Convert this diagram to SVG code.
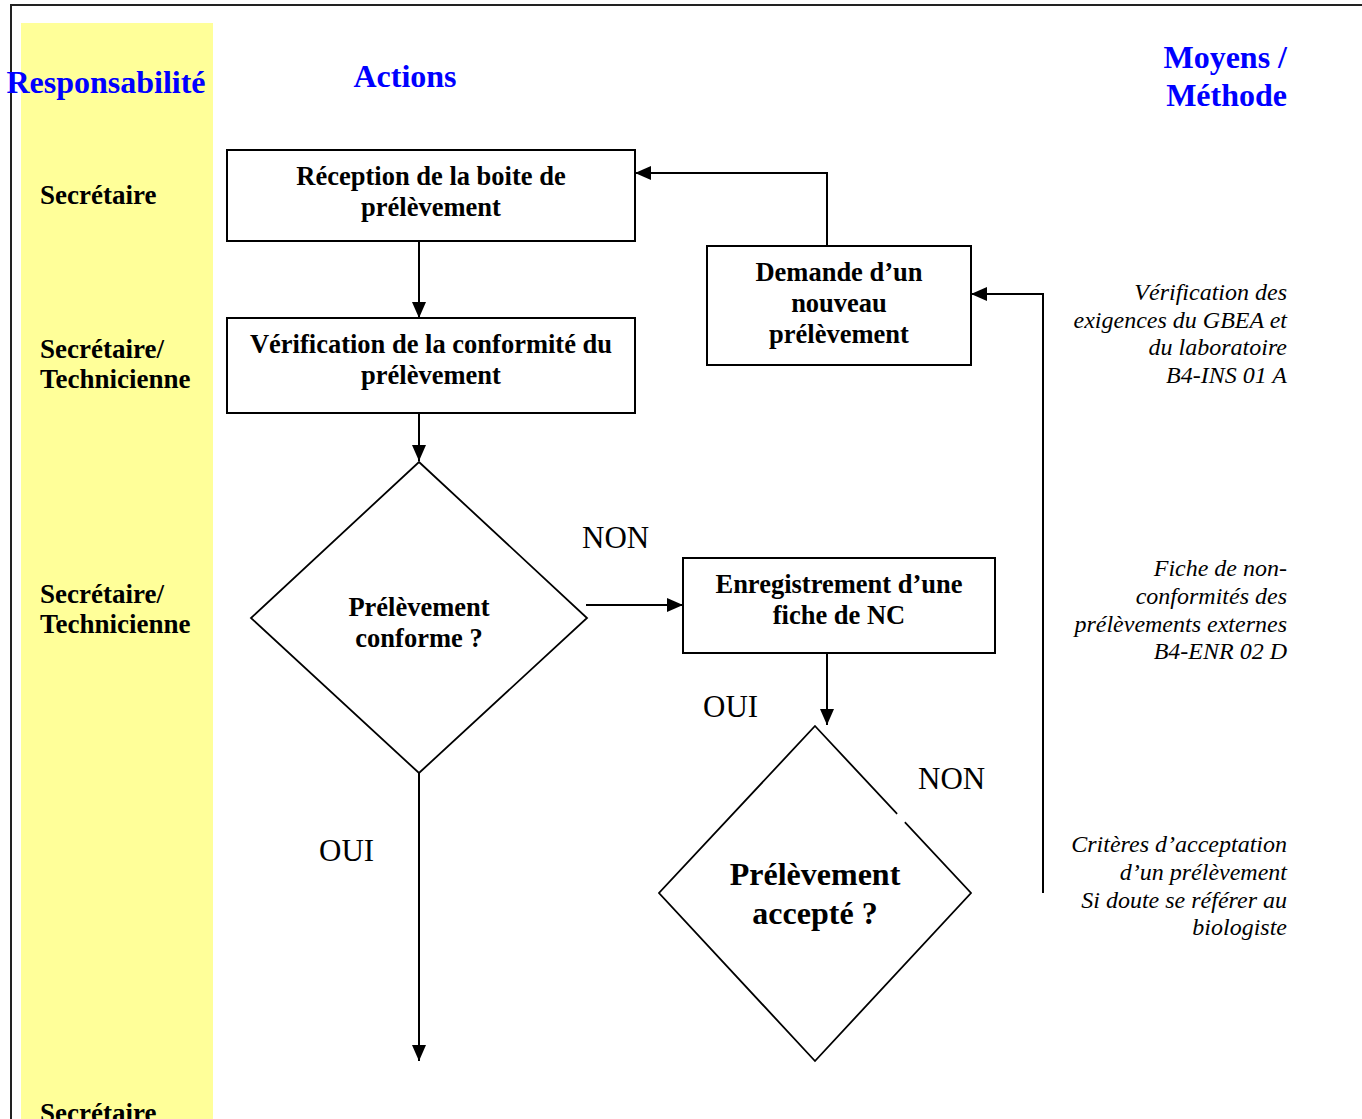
<svg xmlns="http://www.w3.org/2000/svg" width="1362" height="1119" viewBox="0 0 1362 1119">
<style>
.box{fill:#fff;stroke:#000;stroke-width:2}
.dia{fill:#fff;stroke:#000;stroke-width:1.8}
.con{fill:none;stroke:#000;stroke-width:2}
.hd{font-family:"Liberation Serif",serif;font-weight:bold;font-size:32px;fill:#0000FF}
.lane{font-family:"Liberation Serif",serif;font-weight:bold;font-size:27px;fill:#000}
.bt{font-family:"Liberation Serif",serif;font-weight:bold;font-size:26.5px;fill:#000;text-anchor:middle}
.big{font-family:"Liberation Serif",serif;font-weight:bold;font-size:32px;fill:#000;text-anchor:middle}
.lbl{font-family:"Liberation Serif",serif;font-size:31px;fill:#000}
.it{font-family:"Liberation Serif",serif;font-style:italic;font-size:24px;fill:#000;text-anchor:end}
</style>
<defs>
<marker id="ah" viewBox="0 0 16 14" refX="16" refY="7" markerWidth="16" markerHeight="14" markerUnits="userSpaceOnUse" orient="auto">
<path d="M0,0 L16,7 L0,14 Z" fill="#000"/>
</marker>
<clipPath id="clipNon"><rect x="570" y="510" width="100" height="39"/></clipPath>
</defs>
<rect width="1362" height="1119" fill="#fff"/>
<path d="M1362,5 H11 V1119" fill="none" stroke="#222" stroke-width="2"/>
<rect x="21" y="23" width="192" height="1096" fill="#FFFF99"/>

<g id="headers">
<text class="hd" x="106" y="93" text-anchor="middle">Responsabilité</text>
<text class="hd" x="405" y="87" text-anchor="middle">Actions</text>
<text class="hd" x="1287" y="68" text-anchor="end">Moyens /</text>
<text class="hd" x="1287" y="106" text-anchor="end">Méthode</text>
</g>

<g id="lanes">
<text class="lane" x="40" y="204">Secrétaire</text>
<text class="lane" x="40" y="358">Secrétaire/</text>
<text class="lane" x="40" y="388">Technicienne</text>
<text class="lane" x="40" y="603">Secrétaire/</text>
<text class="lane" x="40" y="633">Technicienne</text>
<text class="lane" x="40" y="1122">Secrétaire</text>
</g>

<g id="connectors">
<line class="con" x1="419" y1="241" x2="419" y2="318" marker-end="url(#ah)"/>
<line class="con" x1="419" y1="413" x2="419" y2="461" marker-end="url(#ah)"/>
<line class="con" x1="586" y1="605" x2="683" y2="605" marker-end="url(#ah)"/>
<line class="con" x1="827" y1="653" x2="827" y2="725" marker-end="url(#ah)"/>
<line class="con" x1="419" y1="773" x2="419" y2="1061" marker-end="url(#ah)"/>
<polyline class="con" points="1043,893 1043,294 971,294" marker-end="url(#ah)"/>
<polyline class="con" points="827,245 827,173 635,173" marker-end="url(#ah)"/>
</g>

<g id="n-reception">
<rect class="box" x="227" y="150" width="408" height="91"/>
<text class="bt" x="431" y="185">Réception de la boite de</text>
<text class="bt" x="431" y="216">prélèvement</text>
</g>

<g id="n-verification">
<rect class="box" x="227" y="318" width="408" height="95"/>
<text class="bt" x="431" y="353">Vérification de la conformité du</text>
<text class="bt" x="431" y="384">prélèvement</text>
</g>

<g id="n-demande">
<rect class="box" x="707" y="246" width="264" height="119"/>
<text class="bt" x="839" y="281">Demande d’un</text>
<text class="bt" x="839" y="312">nouveau</text>
<text class="bt" x="839" y="343">prélèvement</text>
</g>

<g id="n-conforme">
<polygon class="dia" points="419,462 587,618 419,773 251,618"/>
<text class="bt" x="419" y="616">Prélèvement</text>
<text class="bt" x="419" y="647">conforme ?</text>
</g>

<g id="n-enregistrement">
<rect class="box" x="683" y="558" width="312" height="95"/>
<text class="bt" x="839" y="593">Enregistrement d’une</text>
<text class="bt" x="839" y="624">fiche de NC</text>
</g>

<g id="n-accepte">
<polygon class="dia" points="815,726 971,893 815,1061 659,893"/>
<line x1="897" y1="814" x2="905" y2="822" stroke="#fff" stroke-width="4"/>
<text class="big" x="815" y="885">Prélèvement</text>
<text class="big" x="815" y="924">accepté ?</text>
</g>

<g id="labels">
<text class="lbl" x="582" y="548" clip-path="url(#clipNon)">NON</text>
<text class="lbl" x="703" y="717">OUI</text>
<text class="lbl" x="918" y="789">NON</text>
<text class="lbl" x="319" y="861">OUI</text>
</g>

<g id="methods">
<text class="it" x="1287" y="300">Vérification des</text>
<text class="it" x="1287" y="328">exigences du GBEA et</text>
<text class="it" x="1287" y="355">du laboratoire</text>
<text class="it" x="1287" y="383">B4-INS 01 A</text>
<text class="it" x="1287" y="576">Fiche de non-</text>
<text class="it" x="1287" y="604">conformités des</text>
<text class="it" x="1287" y="632">prélèvements externes</text>
<text class="it" x="1287" y="659">B4-ENR 02 D</text>
<text class="it" x="1287" y="852">Critères d’acceptation</text>
<text class="it" x="1287" y="880">d’un prélèvement</text>
<text class="it" x="1287" y="908">Si doute se référer au</text>
<text class="it" x="1287" y="935">biologiste</text>
</g>
</svg>
